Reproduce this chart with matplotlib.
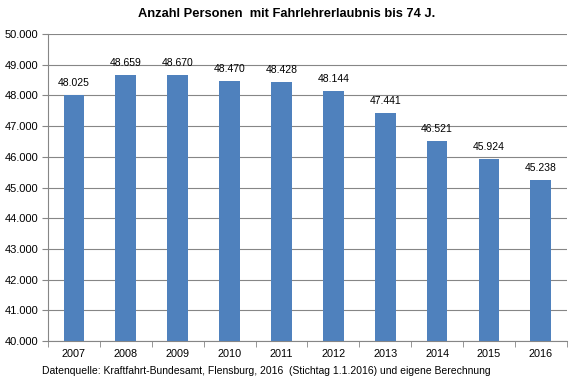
import matplotlib
matplotlib.use("Agg")
import matplotlib.pyplot as plt
import numpy as np

years = ["2007", "2008", "2009", "2010", "2011", "2012", "2013", "2014", "2015", "2016"]
values = [48025, 48659, 48670, 48470, 48428, 48144, 47441, 46521, 45924, 45238]
yticks = [40000, 41000, 42000, 43000, 44000, 45000, 46000, 47000, 48000, 49000, 50000]

def de_fmt(v):
    return f"{v:,.0f}".replace(",", ".")

plt.rcParams['font.family'] = ['Liberation Sans', 'DejaVu Sans']
fig = plt.figure(figsize=(5.76, 3.82), dpi=100)
ax = fig.add_axes([0.0833, 0.107, 0.9007, 0.804])

x = np.arange(len(years))
ax.bar(x, values, width=0.4, color="#4F81BD", zorder=3)
for xi, v in zip(x, values):
    ax.annotate(de_fmt(v), (xi, v), xytext=(0, 5), textcoords="offset points",
                ha="center", va="bottom", fontsize=7.5, color="#000000")

ax.set_xlim(-0.5, len(years) - 0.5)
ax.set_ylim(40000, 50000)
ax.set_yticks(yticks)
ax.set_yticklabels([de_fmt(v) for v in yticks], fontsize=8)
ax.yaxis.grid(True, color="#868686", linewidth=0.8, zorder=0)
ax.set_xticks(x)
ax.set_xticklabels(years, fontsize=7.8)
ax.set_xticks(np.arange(-0.5, len(years)), minor=True)
ax.tick_params(axis="x", which="major", length=0, pad=6)
ax.tick_params(axis="x", which="minor", length=4, color="#868686")
ax.tick_params(axis="y", length=4, color="#868686", pad=3)
for s in ["top", "right"]:
    ax.spines[s].set_visible(False)
for s in ["left", "bottom"]:
    ax.spines[s].set_color("#868686")
    ax.spines[s].set_linewidth(0.8)

fig.text(0.498, 0.963, "Anzahl Personen  mit Fahrlehrerlaubnis bis 74 J.", ha="center", va="center",
         fontsize=9.3, fontweight="bold")
fig.text(0.462, 0.029, "Datenquelle: Kraftfahrt-Bundesamt, Flensburg, 2016  (Stichtag 1.1.2016) und eigene Berechnung",
         ha="center", va="center", fontsize=7.5)

fig.savefig("out.png", dpi=100)
